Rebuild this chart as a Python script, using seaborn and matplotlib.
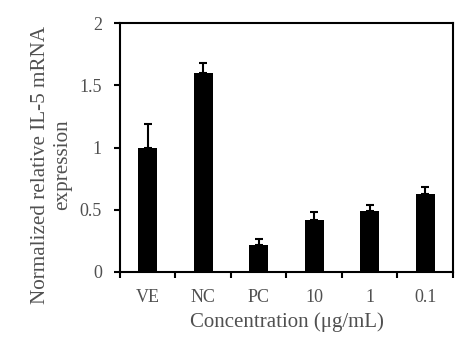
import matplotlib
matplotlib.use("Agg")
import matplotlib.pyplot as plt
import seaborn as sns
import numpy as np
import pandas as pd

categories = ["VE", "NC", "PC", "10", "1", "0.1"]
means = [1.00, 1.60, 0.215, 0.415, 0.49, 0.63]
errors = [0.19, 0.08, 0.05, 0.07, 0.045, 0.05]

sns.set_style("white")
plt.rcParams['font.family'] = ['Liberation Serif', 'DejaVu Serif']
text_color = "#505050"

df = pd.DataFrame({"cond": categories, "val": means})

fig = plt.figure(figsize=(4.77, 3.6), dpi=100)
ax = fig.add_axes([120 / 477, 1 - 272 / 360, 333 / 477, 249 / 360])

sns.barplot(data=df, x="cond", y="val", color="black", width=0.34,
            saturation=1, errorbar=None, ax=ax)
for p in ax.patches:
    p.set_linewidth(0)

x = np.arange(len(categories))
ax.errorbar(x, means, yerr=[np.zeros(len(errors)), errors], fmt="none",
            ecolor="black", elinewidth=1.5, capsize=3.2, capthick=1.5)

ax.set_xlim(-0.5, len(categories) - 0.5)
ax.set_ylim(0, 2)
ax.set_yticks([0, 0.5, 1, 1.5, 2])
ax.set_yticklabels(["0", "0.5", "1", "1.5", "2"])

ax.set_xticks(x)
ax.set_xticklabels(categories)
ax.set_xticks(np.arange(-0.5, len(categories), 1.0), minor=True)
ax.tick_params(axis="x", which="major", length=0, pad=12, labelsize=13,
               labelcolor=text_color)
ax.tick_params(axis="x", which="minor", length=4, width=1.5, direction="out",
               bottom=True, color="black")
ax.tick_params(axis="y", which="major", length=4, width=1.5, direction="out",
               left=True, pad=9, labelsize=13, labelcolor=text_color,
               color="black")

for s in ax.spines.values():
    s.set_visible(True)
    s.set_color("black")
    s.set_linewidth(1.5)

ax.set_xlabel("Concentration (\u03bcg/mL)", fontsize=15, color=text_color,
              labelpad=5)
ax.set_ylabel("Normalized relative IL-5 mRNA\nexpression", fontsize=15.2,
              color=text_color, linespacing=1.2)
ax.yaxis.set_label_coords(-0.145, 0.43)

fig.savefig("out.png", dpi=100)
